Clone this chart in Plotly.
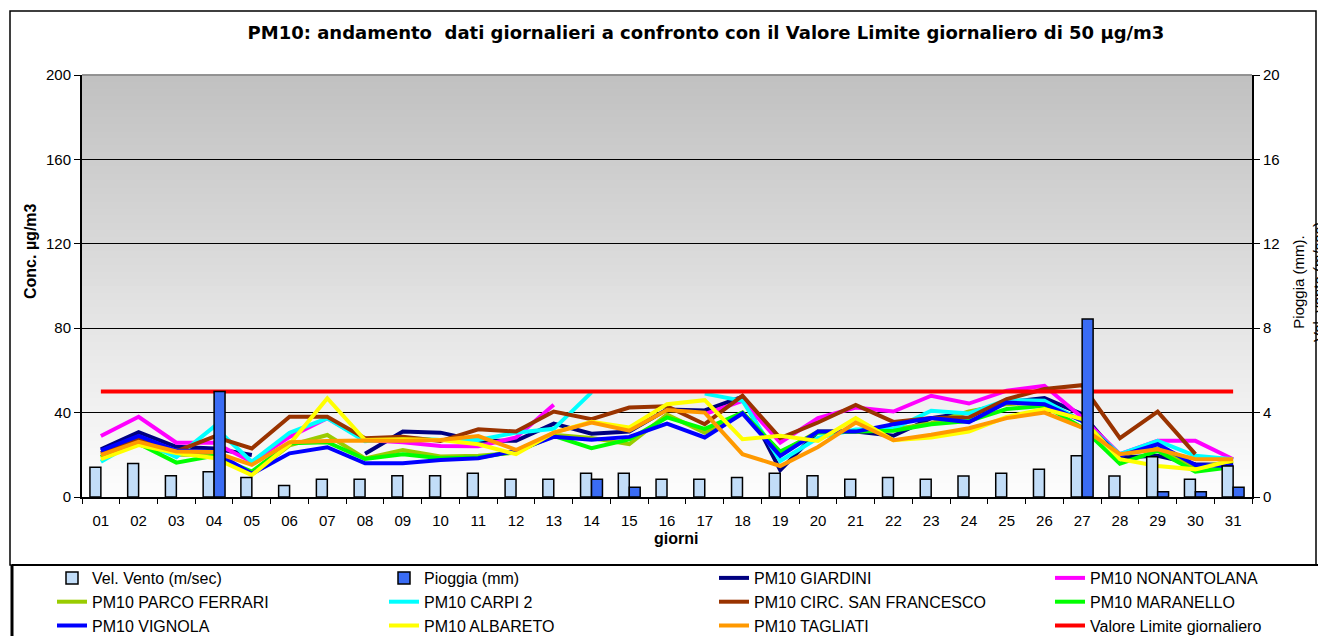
import plotly.graph_objects as go

days = ["01", "02", "03", "04", "05", "06", "07", "08", "09", "10", "11", "12", "13", "14", "15", "16",
        "17", "18", "19", "20", "21", "22", "23", "24", "25", "26", "27", "28", "29", "30", "31"]

vel_vento = [1.41, 1.59, 1.01, 1.2, 0.93, 0.54, 0.84, 0.84, 1.01, 1.01, 1.13, 0.84, 0.84, 1.13, 1.13, 0.84,
             0.84, 0.93, 1.13, 1.01, 0.84, 0.93, 0.84, 0.99, 1.12, 1.31, 1.96, 0.99, 1.91, 0.84, 1.47]
pioggia = [None, None, None, 5.0, None, None, None, None, None, None, None, None, None, 0.84, 0.46, None,
           None, None, None, None, None, None, None, None, None, None, 8.44, None, 0.25, 0.25, 0.46]

giardini = [22.6, 30.7, 23.8, 23, 19.9, None, None, 20.5, 31, 30.5, 26.6, 26.6, 34.8, 30, 31, 41.5,
            41, 47.5, 12.7, 31, 31, 29, 37.4, 40, 44.8, 46.9, 39.3, 18.7, 19.5, 15.5, 15.2]
nonantolana = [28.9, 38, 25.7, 25.7, 16.7, 28.5, 37.3, 27, 26, 24.2, 24, 28.2, 43.7, None, None, None,
               39.3, 45.6, 25.8, 37.4, 42.4, 40.5, 48, 44.3, 50.4, 52.7, 37.7, 20.3, 26.6, 26.6, 17.9]
parco_ferrari = [19, 25, 20, 20, 10.8, 24.5, 29.4, 18.3, 22.2, 19.2, 19.5, 21, 29.5, 28, 25, 39,
                 30.5, 40, 21, 31, 31, 32, 35, 40.5, 44, 45, 36, 20, 23, 14, 17]
carpi2 = [16.7, 27, 18.9, 33.3, 16.7, 30.5, 37.3, 26.5, 28, 27, 27, 30.5, 32.3, 49.6, None, None,
          49, 45.6, 17.1, 28, 32, 32.3, 40.9, 39.6, 46, 45.6, 36, 20.3, 26.6, 19.5, 17.9]
circ_san_francesco = [20.8, 27.8, 21.6, 28.6, 23, 38, 38, 27.8, 28.5, 26.5, 32.1, 31, 40.5, 36.9, 42.4, 43,
                      34.5, 48, 27.9, 35.3, 43.6, 35.6, 37.4, 37.7, 46.4, 51.2, 53, 27.9, 40.5, 20.3, None]
maranello = [19, 25.3, 16.3, 19.5, 12, 25.5, 26, 18, 20.3, 18.4, 18.7, 21.5, 29, 23.1, 27.3, 37.7,
             32.3, 40, 21.5, 30.5, 31, 31.4, 34.5, 36, 41.7, 43.2, 32.9, 15.8, 21.9, 12, 14.2]
vignola = [22, 29, 22, 21.5, 11, 20.7, 23.6, 16, 16, 17.5, 18.4, 21.9, 28.5, 27.1, 28.5, 34.8,
           28.2, 39.6, 19.5, 31, 31, 34.5, 37.4, 35.5, 44.8, 44, 36, 19.5, 25, 15.2, 14.7]
albareto = [17.9, 24.6, 20.8, 18.5, 10.4, 25, 46.8, 27, 27.4, 27, 25, 20.3, 30.5, 35.6, 33, 44,
            45.9, 27.4, 29, 26.6, 37.4, 26.9, 28.2, 31, 38, 41.7, 36.9, 17.9, 14.7, 13.1, 17.4]
tagliati = [19.9, 26.2, 21.6, 21.3, 15.2, 26, 26.5, 26.8, 26.6, 27, 28.9, 22.3, 30.5, 35.3, 31.4, 41.2,
            40, 20.3, 14.7, 23.7, 35.3, 26.9, 29.5, 32.6, 37.4, 40, 32.9, 20.3, 22.6, 17.9, 17.9]
valore_limite = [50] * 31

left_ticks = [0, 40, 80, 120, 160, 200]
right_ticks = [0, 4, 8, 12, 16, 20]

FONT = "Liberation Sans, Arial, sans-serif"

# the page body adds an 8px offset; the figure is shrunk so it ends at the window edge
OFF = 8
FW, FH = 1326 - OFF, 636 - OFF
# plot area in window pixels
L, R, T, B = 82, 1252, 75, 497
W, H = R - L, B - T


def px_x(px):
    return (px - L) / W


def px_y(py):
    return (B - py) / H


fig = go.Figure()

fig.add_trace(go.Bar(x=days, y=vel_vento, name="Vel. Vento (m/sec)", yaxis="y2",
                     marker=dict(color="#c2ddf8", line=dict(color="black", width=1.5)),
                     legend="legend"))
fig.add_trace(go.Bar(x=days, y=pioggia, name="Pioggia (mm)", yaxis="y2",
                     marker=dict(color="#3a6cf4", line=dict(color="black", width=1.5)),
                     legend="legend2"))

series = [
    ("PM10 GIARDINI", giardini, "#000080", "legend3"),
    ("PM10 NONANTOLANA", nonantolana, "#ff00ff", "legend4"),
    ("PM10 PARCO FERRARI", parco_ferrari, "#99cc00", "legend"),
    ("PM10 CARPI 2", carpi2, "#00ffff", "legend2"),
    ("PM10 CIRC. SAN FRANCESCO", circ_san_francesco, "#993300", "legend3"),
    ("PM10 MARANELLO", maranello, "#00ff00", "legend4"),
    ("PM10 VIGNOLA", vignola, "#0000ff", "legend"),
    ("PM10 ALBARETO", albareto, "#ffff00", "legend2"),
    ("PM10 TAGLIATI", tagliati, "#ff9900", "legend3"),
    ("Valore Limite giornaliero", valore_limite, "#ff0000", "legend4"),
]
for name, vals, color, lg in series:
    fig.add_trace(go.Scatter(x=days, y=vals, name=name, mode="lines",
                             line=dict(color=color, width=4), connectgaps=False,
                             legend=lg))

# gradient background of plot area
shapes = []
N = 60
for i in range(N):
    t0 = i / N
    t1 = (i + 1) / N
    tm = (t0 + t1) / 2
    c = int(round(192 + (254 - 192) * (1 - tm)))
    shapes.append(dict(type="rect", xref="x domain", yref="y domain", x0=0, x1=1, y0=t0, y1=t1 + 0.002,
                       fillcolor=f"rgb({c},{c},{c})", line=dict(width=0), layer="below"))
# top border of plot area
shapes.append(dict(type="line", xref="paper", yref="paper", x0=0, x1=1, y0=1, y1=1,
                   line=dict(color="#808080", width=1.5)))
# outer chart frame
shapes.append(dict(type="rect", xref="paper", yref="paper", x0=px_x(10), x1=px_x(1316), y0=px_y(565), y1=px_y(11),
                   line=dict(color="black", width=1.5), fillcolor="rgba(0,0,0,0)"))
# legend box
shapes.append(dict(type="line", xref="paper", yref="paper", x0=px_x(12), x1=px_x(1326), y0=px_y(565), y1=px_y(565),
                   line=dict(color="black", width=2)))
shapes.append(dict(type="line", xref="paper", yref="paper", x0=px_x(12), x1=px_x(12), y0=px_y(565), y1=px_y(640),
                   line=dict(color="black", width=3)))

annotations = [
    dict(text="<b>Conc. µg/m3</b>", x=px_x(30), y=px_y(251), xref="paper", yref="paper",
         xanchor="center", yanchor="middle",
         textangle=-90, showarrow=False, font=dict(family=FONT, size=16, color="black")),
    dict(text="<b>giorni</b>", x=px_x(676), y=px_y(538), xref="paper", yref="paper",
         xanchor="center", yanchor="middle",
         showarrow=False, font=dict(family=FONT, size=16, color="black")),
    dict(text="Pioggia (mm).<br>Vel. vento (m/sec)", x=px_x(1308), y=px_y(282), xref="paper", yref="paper",
         xanchor="center", yanchor="middle",
         textangle=-90, showarrow=False, font=dict(family=FONT, size=15, color="black")),
]

legend_common = dict(orientation="v", xanchor="left", yanchor="top", y=px_y(561),
                     bgcolor="rgba(0,0,0,0)", borderwidth=0, tracegroupgap=0,
                     font=dict(family=FONT, size=16, color="black"))

fig.update_layout(
    width=FW, height=FH,
    margin=dict(l=L - OFF, r=FW - (R - OFF), t=T - OFF, b=FH - (B - OFF), autoexpand=False),
    paper_bgcolor="white",
    plot_bgcolor="rgba(0,0,0,0)",
    font=dict(family=FONT, size=15, color="black"),
    title=dict(text="<b>PM10: andamento  dati giornalieri a confronto con il Valore Limite giornaliero di 50 µg/m3</b>",
               x=(706 - OFF) / FW, xref="container", xanchor="center", y=1 - (33 - OFF) / FH, yref="container",
               yanchor="middle", font=dict(family="DejaVu Sans, Liberation Sans, sans-serif", size=18,
                                           color="black")),
    barmode="group", bargap=0.42, bargroupgap=0,
    xaxis=dict(type="category", categoryorder="array", categoryarray=days, tickson="boundaries",
               ticks="outside", ticklen=5, tickcolor="black", showline=True, linecolor="black", linewidth=2,
               showgrid=False, tickfont=dict(family=FONT, size=15), ticklabelstandoff=9),
    yaxis=dict(range=[0, 200], tickvals=left_ticks, ticks="outside", ticklen=6, tickcolor="black",
               showline=True, linecolor="black", linewidth=2, showgrid=True, gridcolor="black", gridwidth=1,
               zeroline=False, tickfont=dict(family=FONT, size=15)),
    yaxis2=dict(range=[0, 20], tickvals=right_ticks, overlaying="y", side="right", anchor="x",
                ticks="outside", ticklen=6, tickcolor="black", showline=True, linecolor="black", linewidth=2,
                showgrid=False, zeroline=False, tickfont=dict(family=FONT, size=15)),
    shapes=shapes,
    annotations=annotations,
    legend=dict(x=px_x(52), **legend_common),
    legend2=dict(x=px_x(384), **legend_common),
    legend3=dict(x=px_x(714), **legend_common),
    legend4=dict(x=px_x(1050), **legend_common),
    showlegend=True,
)

fig.write_html("out.html")
